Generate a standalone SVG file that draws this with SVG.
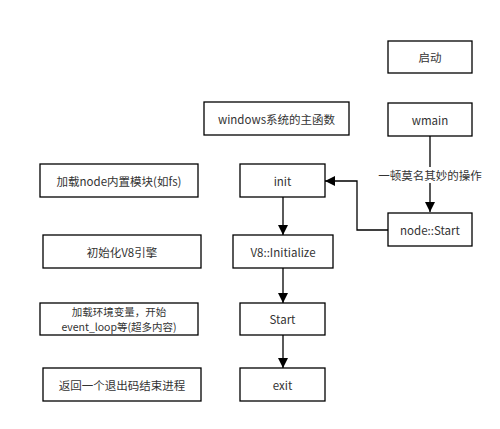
<svg xmlns="http://www.w3.org/2000/svg" width="500" height="429" viewBox="0 0 500 429">
<defs>
<marker id="ah" viewBox="0 0 10 10" refX="10" refY="5" markerWidth="10" markerHeight="10" markerUnits="userSpaceOnUse" orient="auto">
<path d="M0,0 L10,5 L0,10 Z" fill="#000"/>
</marker>
<style>
.box{fill:#fff;stroke:#000;stroke-width:1.3}
.t{font-family:"Noto Sans CJK SC","Liberation Sans",sans-serif;font-size:11.5px;fill:#333;text-anchor:middle;dominant-baseline:central}
.s{font-size:10.5px}
.c{fill:none;stroke:#000;stroke-width:1.3}
</style>
</defs>
<rect width="500" height="429" fill="#fff"/>
<g id="connectors">
<path class="c" d="M430,136 V212" marker-end="url(#ah)"/>
<rect x="381" y="167" width="98" height="16" fill="#fff"/>
<text class="t" x="430" y="175">一顿莫名其妙的操作</text>
<path class="c" d="M388,230 H357 V181 H325" marker-end="url(#ah)"/>
<path class="c" d="M283,197 V235" marker-end="url(#ah)"/>
<path class="c" d="M283,268 V303" marker-end="url(#ah)"/>
<path class="c" d="M283,335 V368" marker-end="url(#ah)"/>
</g>
<g id="qidong"><rect class="box" x="388" y="41" width="84" height="32"/><text class="t" x="430" y="57">启动</text></g>
<g id="wmain"><rect class="box" x="388" y="103" width="84" height="33"/><text class="t" x="430" y="119.5">wmain</text></g>
<g id="windows"><rect class="box" x="204" y="102" width="145" height="33"/><text class="t" x="276.5" y="118.5">windows系统的主函数</text></g>
<g id="nodeStart"><rect class="box" x="388" y="213" width="84" height="33"/><text class="t" x="430" y="229.5">node::Start</text></g>
<g id="init"><rect class="box" x="240" y="164" width="85" height="33"/><text class="t" x="282.5" y="180.5">init</text></g>
<g id="v8init"><rect class="box" x="233" y="235" width="100" height="33"/><text class="t" x="283" y="251.5">V8::Initialize</text></g>
<g id="start"><rect class="box" x="240" y="303" width="85" height="32"/><text class="t" x="282.5" y="319">Start</text></g>
<g id="exit"><rect class="box" x="240" y="368" width="85" height="33"/><text class="t" x="282.5" y="384.5">exit</text></g>
<g id="loadModules"><rect class="box" x="40" y="164" width="158" height="33"/><text class="t" x="119" y="180.5">加载node内置模块(如fs)</text></g>
<g id="initV8"><rect class="box" x="43" y="235" width="158" height="33"/><text class="t" x="122" y="251.5">初始化V8引擎</text></g>
<g id="loadEnv"><rect class="box" x="40" y="303" width="158" height="32"/><text class="t s" x="119" y="311">加载环境变量，开始</text><text class="t s" x="119" y="326.5">event_loop等(超多内容)</text></g>
<g id="returnCode"><rect class="box" x="43" y="368" width="158" height="33"/><text class="t" x="122" y="384.5">返回一个退出码结束进程</text></g>
</svg>
